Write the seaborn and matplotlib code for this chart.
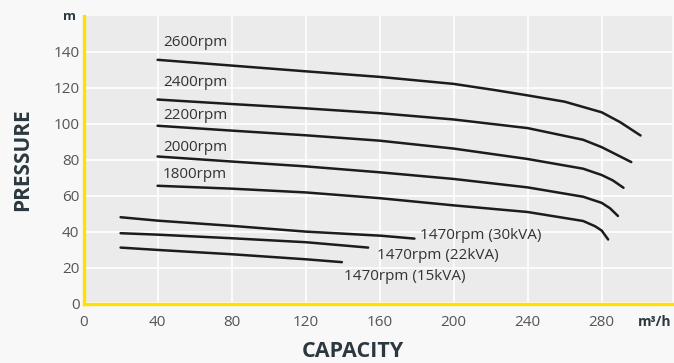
import pandas as pd
import seaborn as sns
import matplotlib.pyplot as plt

# curve points (capacity m3/h, pressure m)
cap_2600 = [40, 80, 120, 160, 200, 222, 240, 260, 280, 290, 301]
prs_2600 = [135.6, 132.4, 129.2, 126.1, 122.2, 118.8, 115.8, 112.3, 106.4, 100.9, 93.5]
cap_2400 = [40, 80, 120, 160, 200, 240, 270, 280, 296]
prs_2400 = [113.5, 111.0, 108.6, 105.9, 102.4, 97.6, 91.1, 87.0, 78.7]
cap_2200 = [40, 80, 120, 160, 200, 240, 270, 280, 286, 291.8]
prs_2200 = [98.9, 96.2, 93.6, 90.6, 86.2, 80.4, 75.0, 71.5, 68.5, 64.4]
cap_2000 = [40, 80, 120, 160, 200, 240, 270, 280, 284.5, 288.8]
prs_2000 = [81.8, 79.0, 76.3, 73.0, 69.3, 64.6, 59.4, 56.0, 53.0, 48.7]
cap_1800 = [40, 80, 120, 160, 200, 240, 270, 276.4, 280, 283.5]
prs_1800 = [65.5, 63.9, 61.8, 58.6, 54.6, 50.9, 45.9, 43.0, 40.6, 35.6]
cap_30kva = [20, 40, 80, 120, 160.8, 178.8]
prs_30kva = [48.0, 46.1, 43.2, 40.0, 37.7, 36.1]
cap_22kva = [20, 40, 80, 120, 153.8]
prs_22kva = [39.1, 38.3, 36.3, 34.1, 31.1]
cap_15kva = [20, 40, 80, 120, 139.6]
prs_15kva = [31.1, 29.8, 27.4, 24.6, 23.0]

curve_names = ["2600rpm", "2400rpm", "2200rpm", "2000rpm", "1800rpm",
               "1470rpm (30kVA)", "1470rpm (22kVA)", "1470rpm (15kVA)"]
caps = [cap_2600, cap_2400, cap_2200, cap_2000, cap_1800, cap_30kva, cap_22kva, cap_15kva]
prss = [prs_2600, prs_2400, prs_2200, prs_2000, prs_1800, prs_30kva, prs_22kva, prs_15kva]

x_ticks = [0, 40, 80, 120, 160, 200, 240, 280]
y_ticks = [0, 20, 40, 60, 80, 100, 120, 140]

rows = []
for name, xs, ys in zip(curve_names, caps, prss):
    for x, y in zip(xs, ys):
        rows.append({"curve": name, "capacity": x, "pressure": y})
df = pd.DataFrame(rows)

sns.set_theme(style="darkgrid", rc={
    "axes.facecolor": "#ebebeb",
    "figure.facecolor": "#f8f8f8",
    "grid.color": "white",
    "grid.linewidth": 1.2,
})
plt.rcParams["font.family"] = ["Open Sans", "DejaVu Sans"]

fig = plt.figure(figsize=(6.74, 3.63), dpi=100)
ax = fig.add_axes([0.124, 0.1625, 0.873, 0.7935])

sns.lineplot(data=df, x="capacity", y="pressure", units="curve", estimator=None,
             sort=False, color="#1c1c1c", linewidth=1.8, ax=ax)

ax.set_xlim(0, 318)
ax.set_ylim(-0.3, 160)
ax.set_xticks(x_ticks)
ax.set_yticks(y_ticks)
ax.tick_params(axis="both", length=0, labelsize=11, colors="#555555")
ax.tick_params(axis="x", pad=8)
ax.tick_params(axis="y", pad=3)

for side in ["top", "right"]:
    ax.spines[side].set_visible(False)
for side in ["left", "bottom"]:
    ax.spines[side].set_visible(True)
    ax.spines[side].set_color("#ffe000")
    ax.spines[side].set_linewidth(2.4)

ax.set_xlabel("CAPACITY", fontsize=15.5, fontweight="bold", color="#2b383f")
ax.set_ylabel("PRESSURE", fontsize=15, fontweight="bold", color="#2b383f")
ax.xaxis.set_label_coords(0.458, -0.13)
ax.yaxis.set_label_coords(-0.086, 0.5)

# curve labels
label_pos = {
    "2600rpm": (43, 145.2), "2400rpm": (43, 123.1), "2200rpm": (43, 104.6),
    "2000rpm": (43, 87.0), "1800rpm": (43, 71.7),
    "1470rpm (30kVA)": (181.8, 37.9), "1470rpm (22kVA)": (158.5, 26.8),
    "1470rpm (15kVA)": (140.5, 15.2),
}
for name in curve_names:
    lx, ly = label_pos[name]
    ax.text(lx, ly, name, fontsize=11, color="#333333", ha="left", va="center")

# units
fig.text(70 / 674, 1 - 17 / 363, "m", fontsize=9.5, fontweight="bold", color="#2b383f",
         ha="center", va="center")
fig.text(638 / 674, 1 - 322 / 363, "m³/h", fontsize=10, fontweight="bold", color="#2b383f",
         ha="left", va="center")

fig.savefig("out.png", dpi=100, facecolor=fig.get_facecolor())
